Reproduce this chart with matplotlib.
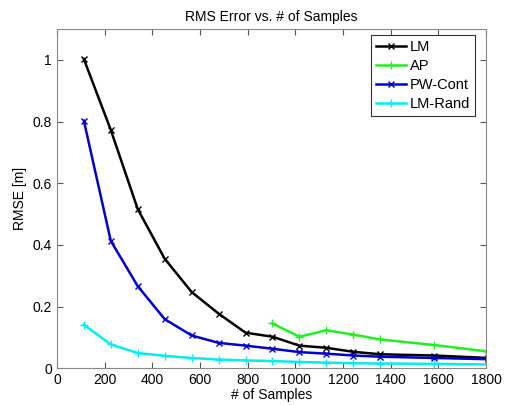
import matplotlib
matplotlib.use("Agg")
import matplotlib.pyplot as plt

plt.rcParams['font.family'] = ['Liberation Sans', 'DejaVu Sans']

# Data
samples = [113, 226, 339, 452, 565, 678, 791, 904, 1017, 1130, 1243, 1356, 1582, 1808]
lm = [1.003, 0.773, 0.516, 0.355, 0.247, 0.177, 0.115, 0.102, 0.073, 0.066, 0.053, 0.045, 0.041, 0.033]
ap_samples = [904, 1017, 1130, 1243, 1356, 1582, 1808]
ap = [0.145, 0.102, 0.123, 0.109, 0.093, 0.075, 0.054]
pw_cont = [0.803, 0.413, 0.266, 0.159, 0.106, 0.082, 0.073, 0.063, 0.052, 0.047, 0.041, 0.037, 0.033, 0.029]
lm_rand = [0.141, 0.077, 0.049, 0.040, 0.033, 0.028, 0.025, 0.023, 0.020, 0.018, 0.016, 0.015, 0.014, 0.012]

fig = plt.figure(figsize=(5.08, 4.05), dpi=100)
ax = fig.add_axes([0.112, 0.091, 0.845, 0.837])

ax.plot(samples, lm, color='black', marker='x', markersize=4, lw=1.8, label='LM')
ax.plot(ap_samples, ap, color='#22ee22', marker='+', markersize=6, lw=1.8, label='AP')
ax.plot(samples, pw_cont, color='#0000cc', marker='x', markersize=4, lw=1.8, label='PW-Cont')
ax.plot(samples, lm_rand, color='#00eeee', marker='+', markersize=6, lw=1.8, label='LM-Rand')

ax.set_xlim(0, 1800)
ax.set_ylim(0, 1.1)
ax.set_xticks(range(0, 1801, 200))
ax.set_yticks([0, 0.2, 0.4, 0.6, 0.8, 1])
ax.set_yticklabels(['0', '0.2', '0.4', '0.6', '0.8', '1'])
ax.tick_params(direction='in', top=True, right=True, labelsize=10, length=4, color='#555555')
for s in ax.spines.values():
    s.set_color('#888888')

ax.set_title("RMS Error vs. # of Samples", fontsize=10)
ax.set_xlabel("# of Samples", fontsize=10, labelpad=1)
ax.set_ylabel("RMSE [m]", fontsize=10)

leg = ax.legend(loc='upper right', bbox_to_anchor=(0.975, 0.984), fontsize=10.5,
                fancybox=False, framealpha=1, edgecolor='#333333', handlelength=2.0,
                borderpad=0.35, labelspacing=0.35, handletextpad=0.3, borderaxespad=0)
leg.get_frame().set_linewidth(0.8)

plt.savefig("out.png", dpi=100)
